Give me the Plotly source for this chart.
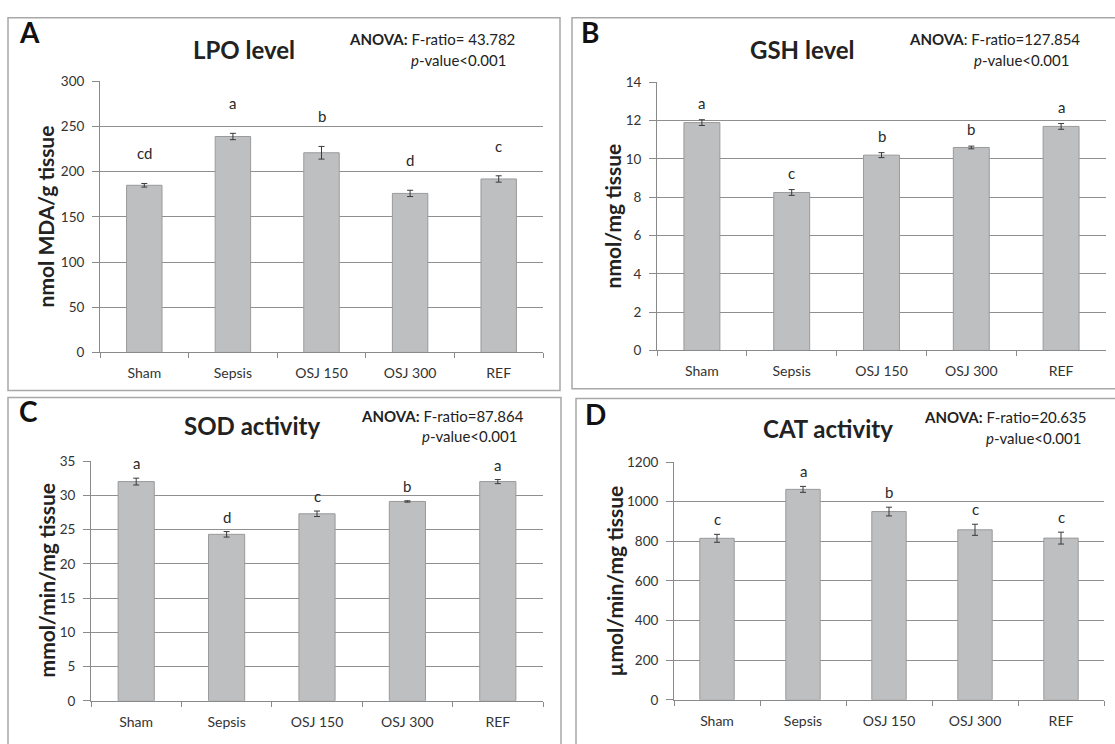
import plotly.graph_objects as go

# ---------------- data ----------------
categories = ["Sham", "Sepsis", "OSJ 150", "OSJ 300", "REF"]

lpo_values = [185, 239, 221, 176, 192]
lpo_errors = [2, 3.5, 7, 3.5, 3.5]
lpo_letters = ["cd", "a", "b", "d", "c"]

gsh_values = [11.9, 8.25, 10.2, 10.6, 11.7]
gsh_errors = [0.15, 0.15, 0.13, 0.07, 0.15]
gsh_letters = ["a", "c", "b", "b", "a"]

sod_values = [32.0, 24.3, 27.3, 29.1, 32.0]
sod_errors = [0.5, 0.4, 0.4, 0.1, 0.3]
sod_letters = ["a", "d", "c", "b", "a"]

cat_values = [815, 1062, 950, 858, 816]
cat_errors = [20, 15, 22, 28, 30]
cat_letters = ["c", "a", "b", "c", "c"]

panel_labels = ["A", "B", "C", "D"]
panel_titles = ["LPO level", "GSH level", "SOD activity", "CAT activity"]
y_titles = ["nmol MDA/g tissue", "nmol/mg tissue", "mmol/min/mg tissue", "µmol/min/mg tissue"]
anova_lines = [
    "<b>ANOVA:</b> F-ratio= 43.782",
    "<b>ANOVA</b>: F-ratio=127.854",
    "<b>ANOVA:</b> F-ratio=87.864",
    "<b>ANOVA:</b> F-ratio=20.635",
]
p_line = "<i>p</i>-value&lt;0.001"
y_ranges = [(0, 300, 50), (0, 14, 2), (0, 35, 5), (0, 1200, 200)]

# ---------------- layout geometry (pixels) ----------------
W, H = 1115, 744
FONT = "Lato"

def px(x):
    return x / W

def py(y):
    return 1 - y / H

panels = [
    dict(plot=(100, 543, 75, 352), box=(8, 560, 10, 391),
         title=(244, 42), letter=(17, 25), anova=(347, 32), pval=(409, 53), ytitle=(45, 213), loff=30),
    dict(plot=(657, 1106, 76, 350), box=(572, 1125, 10, 389),
         title=(802, 42), letter=(579, 25), anova=(907, 32), pval=(972, 53), ytitle=(612, 213), loff=17),
    dict(plot=(91, 543, 463, 708), box=(8, 561, 398, 760),
         title=(252, 427), letter=(17, 412), anova=(359, 417), pval=(420, 437), ytitle=(46, 585), loff=15),
    dict(plot=(674, 1104, 464, 707), box=(576, 1125, 399, 760),
         title=(828, 430), letter=(583, 415), anova=(922, 418), pval=(984, 439), ytitle=(614, 585), loff=15),
]

series = [
    (lpo_values, lpo_errors, lpo_letters),
    (gsh_values, gsh_errors, gsh_letters),
    (sod_values, sod_errors, sod_letters),
    (cat_values, cat_errors, cat_letters),
]

fig = go.Figure()
annotations = []
shapes = []

for i, (p, (vals, errs, letters)) in enumerate(zip(panels, series)):
    n = "" if i == 0 else str(i + 1)
    xa, ya = "x" + n, "y" + n
    fig.add_trace(go.Bar(
        x=categories, y=vals, xaxis=xa, yaxis=ya, width=0.4,
        marker=dict(color="#bebfc1", line=dict(color="#9a9a9a", width=1)),
        error_y=dict(type="data", array=errs, visible=True, color="#3a3a3a", thickness=1, width=3),
        showlegend=False, hoverinfo="skip",
    ))
    x0, x1, y0, y1 = p["plot"]
    lo, hi, dt = y_ranges[i]
    fig.update_layout(**{
        "xaxis" + n: dict(
            domain=[px(x0), px(x1)], anchor=ya, type="category", range=[-0.5, 4.5],
            showline=True, linecolor="#8a8a8a", linewidth=1, ticks="outside", tickson="boundaries",
            ticklen=5, tickcolor="#8a8a8a", showgrid=False, zeroline=False,
            tickfont=dict(family=FONT, size=14, color="#333333"), ticklabelstandoff=8,
            fixedrange=True,
        ),
        "yaxis" + n: dict(
            domain=[py(y1), py(y0)], anchor=xa, range=[lo, hi], dtick=dt, tick0=0,
            showline=True, linecolor="#8a8a8a", linewidth=1, ticks="outside", ticklen=7,
            tickcolor="#8a8a8a", showgrid=True, gridcolor="#8f8f8f", gridwidth=1, zeroline=False,
            tickfont=dict(family=FONT, size=13.5, color="#333333"), ticklabelstandoff=5,
            fixedrange=True,
        ),
    })
    # significance letters
    for c, v, e, t in zip(categories, vals, errs, letters):
        annotations.append(dict(
            x=c, y=v + e, xref=xa, yref=ya, text=t, showarrow=False,
            yanchor="middle", yshift=p["loff"],
            font=dict(family=FONT, size=15, color="#2a2a2a"),
        ))
    # titles and texts
    annotations.append(dict(x=px(p["title"][0]), y=py(p["title"][1]), xref="paper", yref="paper",
                            text="<b>%s</b>" % panel_titles[i], showarrow=False,
                            xanchor="center", yanchor="middle",
                            font=dict(family=FONT, size=24, color="#222222")))
    annotations.append(dict(x=px(p["letter"][0]), y=py(p["letter"][1]), xref="paper", yref="paper",
                            text="<b>%s</b>" % panel_labels[i], showarrow=False,
                            xanchor="left", yanchor="middle",
                            font=dict(family=FONT, size=28, color="#111111")))
    annotations.append(dict(x=px(p["anova"][0]), y=py(p["anova"][1]), xref="paper", yref="paper",
                            text=anova_lines[i], showarrow=False, xanchor="left", yanchor="middle",
                            font=dict(family=FONT, size=15, color="#222222")))
    annotations.append(dict(x=px(p["pval"][0]), y=py(p["pval"][1]), xref="paper", yref="paper",
                            text=p_line, showarrow=False, xanchor="left", yanchor="middle",
                            font=dict(family=FONT, size=15, color="#222222")))
    annotations.append(dict(x=px(p["ytitle"][0]), y=py(p["ytitle"][1]), xref="paper", yref="paper",
                            text="<b>%s</b>" % y_titles[i], showarrow=False, textangle=-90,
                            xanchor="center", yanchor="middle",
                            font=dict(family=FONT, size=21, color="#222222")))
    bx0, bx1, by0, by1 = p["box"]
    shapes.append(dict(type="rect", xref="paper", yref="paper",
                       x0=px(bx0), x1=px(bx1), y0=py(by1), y1=py(by0),
                       line=dict(color="#a8a8a8", width=1.5), fillcolor="rgba(0,0,0,0)", layer="below"))

fig.update_layout(
    width=W, height=H, margin=dict(l=0, r=0, t=0, b=0),
    paper_bgcolor="white", plot_bgcolor="white",
    annotations=annotations, shapes=shapes, bargap=0.6,
)

post = (
    "document.documentElement.style.margin='0';"
    "document.body.style.margin='0';document.body.style.padding='0';"
    "document.body.style.overflow='hidden';"
    "var gd=document.getElementsByClassName('plotly-graph-div')[0];"
    "gd.style.position='fixed';gd.style.left='0px';gd.style.top='0px';"
)

fig.write_html("out.html", config={"displayModeBar": False}, post_script=post)
